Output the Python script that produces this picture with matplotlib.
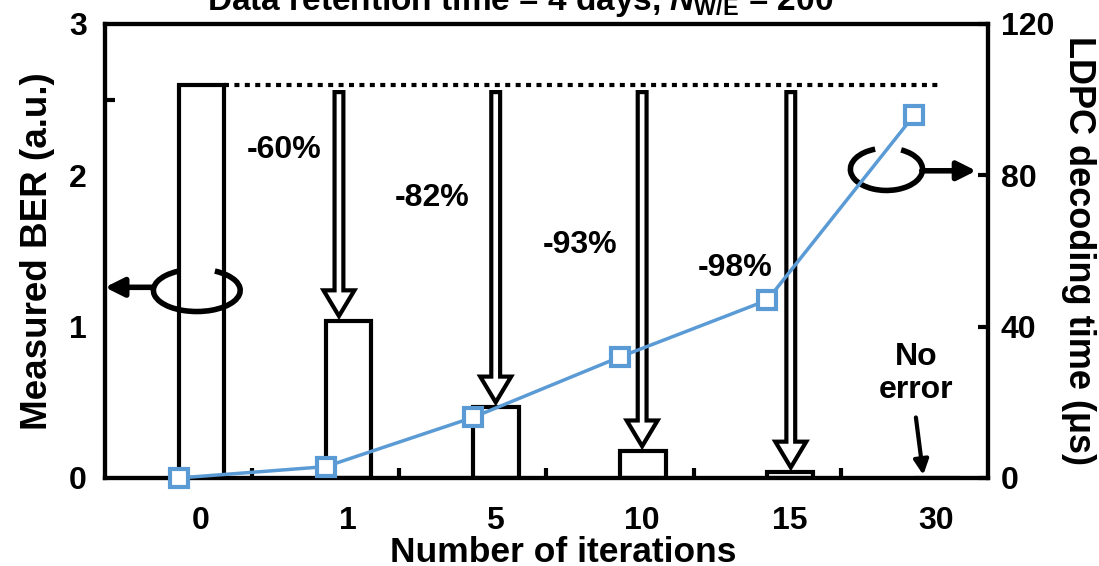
import matplotlib.pyplot as plt
from matplotlib.patches import Arc, FancyArrow

plt.rcParams['font.family'] = ['Liberation Sans', 'DejaVu Sans']
plt.rcParams['font.weight'] = 'bold'
plt.rcParams['mathtext.fontset'] = 'custom'
plt.rcParams['mathtext.rm'] = 'Liberation Sans:bold'
plt.rcParams['mathtext.it'] = 'Liberation Sans:italic:bold'
plt.rcParams['mathtext.bf'] = 'Liberation Sans:bold'

# data
iterations = ['0', '1', '5', '10', '15', '30']
ber = [2.6, 1.04, 0.47, 0.18, 0.04, 0.0]          # measured BER (a.u.)
decode_time = [0, 3, 16, 32, 47, 96]              # LDPC decoding time (us)
reduction = ['-60%', '-82%', '-93%', '-98%']

x = list(range(len(iterations)))
bar_w = 0.31

fig = plt.figure(figsize=(10.99, 5.66), dpi=100)
ax = fig.add_axes([0.0955, 0.1555, 0.8035, 0.8021])
ax2 = ax.twinx()

ax.bar(x, ber, width=bar_w, align='edge', color='white', edgecolor='black', linewidth=3)
ax.set_xlim(-0.5, 5.5)
ax.set_ylim(0, 3)
ax2.set_ylim(0, 120)

# dotted reference line at the 0-iteration BER
ax.plot([bar_w, 5.16], [ber[0], ber[0]], color='black', lw=3, ls=(0, (1.2, 1.3)), dash_capstyle='butt')

# hollow arrows + reduction labels
arrow_x = [1.09, 2.155, 3.15, 4.16]
for i, ax_x in enumerate(arrow_x, start=1):
    top = 2.55
    tip = ber[i] + 0.03
    ax.add_patch(FancyArrow(ax_x, top, 0, tip - top, width=0.06, head_width=0.21, head_length=0.17,
                            length_includes_head=True, fc='white', ec='black', lw=3, zorder=3))
label_pos = [(0.72, 2.17), (1.72, 1.85), (2.73, 1.54), (3.78, 1.39)]
for (lx, ly), lab in zip(label_pos, reduction):
    ax.text(lx, ly, lab, fontsize=23, fontweight='bold', ha='center', va='center')

# decoding time line
ax2.plot(x, decode_time, color='#5B9BD5', lw=2.5, marker='s', ms=13, mfc='white',
         mec='#5B9BD5', mew=3, clip_on=False, zorder=5)

# curly arrows pointing to the axes
ax.add_patch(Arc((0.124, 1.24), 0.59, 0.28, theta1=136, theta2=46, lw=4, color='black', zorder=4))
ax.annotate('', xy=(-0.5, 1.26), xytext=(-0.17, 1.26),
            arrowprops=dict(arrowstyle='-|>', lw=4, color='black', mutation_scale=28, shrinkA=0, shrinkB=0),
            annotation_clip=False)
ax.add_patch(Arc((4.81, 2.04), 0.49, 0.28, theta1=120, theta2=52, lw=4, color='black', zorder=4))
ax.annotate('', xy=(5.42, 2.03), xytext=(5.05, 2.03),
            arrowprops=dict(arrowstyle='-|>', lw=4, color='black', mutation_scale=28, shrinkA=0, shrinkB=0),
            annotation_clip=False)

# "No error" note
ax.text(5.01, 0.69, 'No\nerror', fontsize=23, fontweight='bold', ha='center', va='center', linespacing=1.15)
ax.annotate('', xy=(5.06, 0.02), xytext=(5.01, 0.4),
            arrowprops=dict(arrowstyle='-|>', lw=3, color='black', mutation_scale=22, shrinkA=0, shrinkB=0))

# axes styling
for a in (ax, ax2):
    for s in a.spines.values():
        s.set_linewidth(3)
ax.set_xticks([i + 0.15 for i in x])
ax.set_xticklabels(iterations)
ax.set_xticks([i + 0.5 for i in x[:-1]], minor=True)
ax.tick_params(axis='x', which='major', length=0, pad=20, labelsize=23)
ax.tick_params(axis='x', which='minor', direction='in', length=7, width=3)
ax.set_yticks([0, 1, 2, 3])
ax.set_yticks([2.5], minor=True)
ax.tick_params(axis='y', which='major', length=0, pad=13, labelsize=23)
ax.tick_params(axis='y', which='minor', direction='in', length=7, width=3)
ax2.set_yticks([0, 40, 80, 120])
ax2.tick_params(axis='y', direction='in', length=7, width=3, pad=9, labelsize=23)

ax.set_xlabel('Number of iterations', fontsize=25.5, fontweight='bold')
ax.xaxis.set_label_coords(0.519, -0.127)
ax.set_ylabel('Measured BER (a.u.)', fontsize=26.5, fontweight='bold', labelpad=10)
ax2.set_ylabel('LDPC decoding time (μs)', fontsize=26, fontweight='bold', rotation=270, labelpad=30)

fig.text(0.473, 0.983, r'Data retention time = 4 days, $N_{\mathrm{W/E}}$ = 200',
         fontsize=24, fontweight='bold', ha='center', va='baseline')

fig.savefig('out.png', dpi=100)
